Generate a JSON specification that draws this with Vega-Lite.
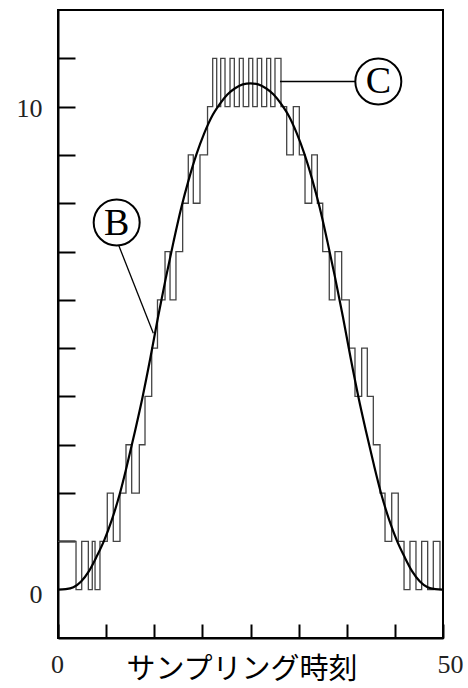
{
  "$schema": "https://vega.github.io/schema/vega-lite/v6.json",
  "width": 385,
  "height": 628,
  "autosize": "none",
  "padding": {"left": 58, "top": 10, "right": 25, "bottom": 50},
  "background": "white",
  "config": {
    "view": {"stroke": "black", "strokeWidth": 2},
    "axis": {"grid": false}
  },
  "datasets": {
    "step": [
      {"t": 0, "q": 1}, {"t": 2.34, "q": 0}, {"t": 3.08, "q": 1}, {"t": 3.94, "q": 0},
      {"t": 4.45, "q": 1}, {"t": 4.81, "q": 0}, {"t": 5.45, "q": 1}, {"t": 6.4, "q": 2},
      {"t": 7.18, "q": 1}, {"t": 8.05, "q": 2}, {"t": 8.83, "q": 3}, {"t": 9.57, "q": 2},
      {"t": 10.56, "q": 3}, {"t": 11.3, "q": 4}, {"t": 12.17, "q": 5}, {"t": 12.92, "q": 6},
      {"t": 13.9, "q": 7}, {"t": 14.55, "q": 6}, {"t": 15.32, "q": 7}, {"t": 16.19, "q": 8},
      {"t": 16.92, "q": 9}, {"t": 17.57, "q": 8}, {"t": 18.44, "q": 9}, {"t": 19.42, "q": 10},
      {"t": 20.09, "q": 11}, {"t": 20.61, "q": 10}, {"t": 21.13, "q": 11}, {"t": 21.69, "q": 10},
      {"t": 22.34, "q": 11}, {"t": 22.9, "q": 10}, {"t": 23.55, "q": 11}, {"t": 24.06, "q": 10},
      {"t": 24.77, "q": 11}, {"t": 25.29, "q": 10}, {"t": 25.88, "q": 11}, {"t": 26.45, "q": 10},
      {"t": 27.1, "q": 11}, {"t": 27.62, "q": 10}, {"t": 28.18, "q": 11}, {"t": 28.96, "q": 10},
      {"t": 29.7, "q": 9}, {"t": 30.56, "q": 10}, {"t": 31.34, "q": 9}, {"t": 32.08, "q": 8},
      {"t": 32.95, "q": 9}, {"t": 33.68, "q": 8}, {"t": 34.38, "q": 7}, {"t": 35.23, "q": 6},
      {"t": 35.97, "q": 7}, {"t": 36.84, "q": 6}, {"t": 37.83, "q": 5}, {"t": 38.57, "q": 4},
      {"t": 39.44, "q": 5}, {"t": 40.17, "q": 4}, {"t": 40.95, "q": 3}, {"t": 41.82, "q": 2},
      {"t": 42.47, "q": 1}, {"t": 43.34, "q": 2}, {"t": 44.19, "q": 1}, {"t": 44.94, "q": 0},
      {"t": 45.71, "q": 1}, {"t": 46.49, "q": 0}, {"t": 47.23, "q": 1}, {"t": 48.01, "q": 0},
      {"t": 48.74, "q": 1}, {"t": 49.61, "q": 0}, {"t": 50, "q": 0}
    ],
    "curve": [
      {"t": 0, "v": 0}, {"t": 1, "v": 0.01}, {"t": 2, "v": 0.05}, {"t": 3, "v": 0.17},
      {"t": 4, "v": 0.38}, {"t": 5, "v": 0.68}, {"t": 6, "v": 1.02}, {"t": 7, "v": 1.45},
      {"t": 8, "v": 1.97}, {"t": 9, "v": 2.6}, {"t": 10, "v": 3.28}, {"t": 11, "v": 4.0},
      {"t": 12, "v": 4.8}, {"t": 13, "v": 5.65}, {"t": 14, "v": 6.45}, {"t": 15, "v": 7.2},
      {"t": 16, "v": 7.9}, {"t": 17, "v": 8.5}, {"t": 18, "v": 9.02}, {"t": 19, "v": 9.45},
      {"t": 20, "v": 9.8}, {"t": 21, "v": 10.05}, {"t": 22, "v": 10.25}, {"t": 23, "v": 10.38},
      {"t": 24, "v": 10.46}, {"t": 25, "v": 10.48}, {"t": 26, "v": 10.46}, {"t": 27, "v": 10.38},
      {"t": 28, "v": 10.25}, {"t": 29, "v": 10.05}, {"t": 30, "v": 9.8}, {"t": 31, "v": 9.45},
      {"t": 32, "v": 9.02}, {"t": 33, "v": 8.5}, {"t": 34, "v": 7.9}, {"t": 35, "v": 7.2},
      {"t": 36, "v": 6.45}, {"t": 37, "v": 5.65}, {"t": 38, "v": 4.8}, {"t": 39, "v": 4.0},
      {"t": 40, "v": 3.28}, {"t": 41, "v": 2.6}, {"t": 42, "v": 1.97}, {"t": 43, "v": 1.45},
      {"t": 44, "v": 1.02}, {"t": 45, "v": 0.68}, {"t": 46, "v": 0.38}, {"t": 47, "v": 0.17},
      {"t": 48, "v": 0.05}, {"t": 49, "v": 0.01}, {"t": 50, "v": 0}
    ],
    "leaders": [
      {"x1": 7.83, "y1": 7.15, "x2": 12.38, "y2": 5.31},
      {"x1": 28.83, "y1": 10.52, "x2": 38.57, "y2": 10.52}
    ],
    "labels": [
      {"cx": 7.62, "cy": 7.6, "name": "B"},
      {"cx": 41.6, "cy": 10.52, "name": "C"}
    ]
  },
  "layer": [
    {
      "data": {"name": "step"},
      "mark": {"type": "line", "interpolate": "step-after", "color": "#444", "strokeWidth": 1.3},
      "encoding": {
        "x": {
          "field": "t", "type": "quantitative",
          "scale": {"domain": [0, 50], "nice": false, "zero": false},
          "axis": {
            "values": [0, 6.25, 12.5, 18.75, 25, 31.25, 37.5, 43.75, 50],
            "tickSize": -14, "tickColor": "black", "tickWidth": 2,
            "domainColor": "black", "domainWidth": 2,
            "labelExpr": "datum.value == 0 ? '0' : datum.value == 50 ? '50' : ''",
            "labelFont": "Liberation Serif", "labelFontSize": 26, "labelColor": "#222",
            "labelPadding": 27, "labelFlush": false, "labelOverlap": false,
            "labelBaseline": "top",
            "labelOffset": {"condition": {"test": "datum.value == 50", "value": 7}, "value": -1},
            "title": "サンプリング時刻",
            "titleFont": "Noto Sans CJK JP", "titleFontSize": 29, "titleFontWeight": "normal",
            "titleColor": "black", "titleX": 183.5, "titleY": 17, "titleAlign": "center",
            "titleBaseline": "top"
          }
        },
        "y": {
          "field": "q", "type": "quantitative",
          "scale": {"domain": [-1, 12], "nice": false, "zero": false},
          "axis": {
            "values": [0, 1, 2, 3, 4, 5, 6, 7, 8, 9, 10, 11],
            "tickSize": -17, "tickColor": "black", "tickWidth": 2,
            "tickOpacity": {"condition": {"test": "datum.value == 0", "value": 0}, "value": 1},
            "domainColor": "black", "domainWidth": 2,
            "labelExpr": "datum.value == 0 ? '0' : datum.value == 10 ? '10' : ''",
            "labelFont": "Liberation Serif", "labelFontSize": 26, "labelColor": "#222",
            "labelPadding": 33, "labelOverlap": false, "labelFlush": false,
            "labelOffset": {"condition": {"test": "datum.value == 0", "value": 5}, "value": 2},
            "title": null
          }
        }
      }
    },
    {
      "data": {"name": "curve"},
      "mark": {"type": "line", "interpolate": "monotone", "color": "black", "strokeWidth": 2.2},
      "encoding": {
        "x": {"field": "t", "type": "quantitative"},
        "y": {"field": "v", "type": "quantitative"}
      }
    },
    {
      "data": {"name": "leaders"},
      "mark": {"type": "rule", "color": "black", "strokeWidth": 1.3},
      "encoding": {
        "x": {"field": "x1", "type": "quantitative"},
        "y": {"field": "y1", "type": "quantitative"},
        "x2": {"field": "x2"},
        "y2": {"field": "y2"}
      }
    },
    {
      "data": {"name": "labels"},
      "mark": {"type": "point", "shape": "circle", "size": 2116, "filled": true, "fill": "white", "stroke": "black", "strokeWidth": 2, "opacity": 1},
      "encoding": {
        "x": {"field": "cx", "type": "quantitative"},
        "y": {"field": "cy", "type": "quantitative"}
      }
    },
    {
      "data": {"name": "labels"},
      "mark": {"type": "text", "font": "Liberation Serif", "fontSize": 38, "color": "black", "align": "center", "baseline": "middle", "dy": 1},
      "encoding": {
        "x": {"field": "cx", "type": "quantitative"},
        "y": {"field": "cy", "type": "quantitative"},
        "text": {"field": "name"}
      }
    }
  ]
}
